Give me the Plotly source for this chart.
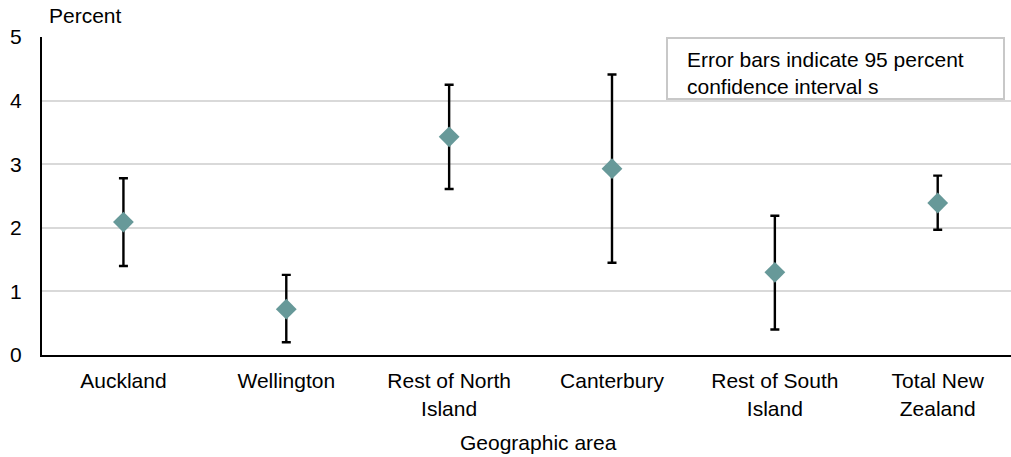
import plotly.graph_objects as go

categories = ["Auckland", "Wellington", "Rest of North<br>Island", "Canterbury",
              "Rest of South<br>Island", "Total New<br>Zealand"]
values = [2.09, 0.72, 3.43, 2.93, 1.30, 2.39]
upper = [2.78, 1.26, 4.25, 4.41, 2.19, 2.82]
lower = [1.40, 0.20, 2.61, 1.45, 0.40, 1.97]
y_ticks = [0, 1, 2, 3, 4, 5]

FONT = "Liberation Sans, Arial, sans-serif"
FS = 21
W, H = 1011, 457
L, R, T, B = 42, 0, 37, 102
PW, PH = W - L - R, H - T - B

def px_x(p):
    return (p - L) / PW

def px_y(p):
    return (H - B - p) / PH

xs = list(range(len(categories)))
err_plus = [u - v for u, v in zip(upper, values)]
err_minus = [v - l for v, l in zip(values, lower)]

fig = go.Figure()
fig.add_trace(go.Scatter(
    x=xs, y=values, mode="markers",
    marker=dict(symbol="diamond", size=16, color="#679999", line=dict(width=0)),
    error_y=dict(type="data", symmetric=False, array=err_plus, arrayminus=err_minus,
                 color="black", thickness=2.4, width=4.5),
    showlegend=False, hoverinfo="skip",
))

fig.update_layout(
    width=W, height=H,
    margin=dict(l=L, r=R, t=T, b=B, pad=0),
    paper_bgcolor="white", plot_bgcolor="white",
    font=dict(family=FONT, size=FS, color="black"),
    xaxis=dict(
        range=[-0.5, 5.45], tickvals=xs, ticktext=categories,
        showgrid=False, zeroline=False, showline=True, linecolor="black", linewidth=2,
        ticks="", ticklabelstandoff=6, tickfont=dict(family=FONT, size=FS, color="black"),
    ),
    yaxis=dict(
        range=[0, 5], tickvals=y_ticks, ticktext=[str(t) for t in y_ticks],
        showgrid=True, gridcolor="#d9d9d9", gridwidth=1.5, zeroline=False,
        showline=True, linecolor="black", linewidth=2,
        ticks="", ticklabelstandoff=14, tickfont=dict(family=FONT, size=FS, color="black"),
    ),
    shapes=[dict(
        type="rect", xref="paper", yref="paper",
        x0=px_x(667), x1=px_x(1004), y0=px_y(99), y1=px_y(38),
        line=dict(color="#c8c8c8", width=2), fillcolor="white", layer="above",
    )],
    annotations=[
        dict(text="Percent", xref="paper", yref="paper", x=px_x(47), y=px_y(16),
             xanchor="left", yanchor="middle", showarrow=False,
             font=dict(family=FONT, size=FS, color="black")),
        dict(text="Geographic area", xref="paper", yref="paper", x=px_x(538), y=px_y(442),
             xanchor="center", yanchor="middle", showarrow=False,
             font=dict(family=FONT, size=FS, color="black")),
        dict(text="Error bars indicate 95 percent<br>confidence interval s",
             xref="paper", yref="paper", x=px_x(685), y=px_y(73),
             xanchor="left", yanchor="middle", align="left", showarrow=False,
             font=dict(family=FONT, size=FS, color="black")),
    ],
)

fig.write_html("out.html")
